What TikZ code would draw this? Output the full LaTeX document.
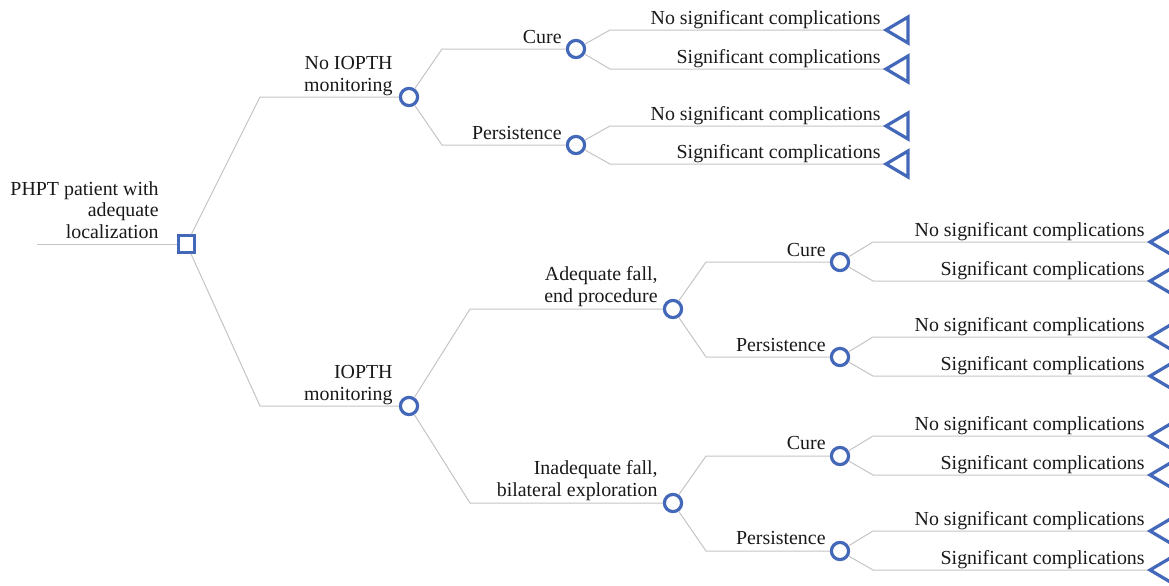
\documentclass[tikz,border=0pt]{standalone}
\usepackage{fontspec}
\setmainfont{Liberation Serif}
\usetikzlibrary{positioning}
\definecolor{nodeblue}{HTML}{4468B9}
\definecolor{branchgray}{HTML}{C4C4C4}

\begin{document}
\begin{tikzpicture}[x=0.5pt, y=-0.5pt,
  style={font=\fontsize{9.95}{10.75}\selectfont},
  chance/.style={circle, draw=nodeblue, line width=1.6pt, fill=white, minimum size=8.6pt, inner sep=0pt},
  decision/.style={rectangle, draw=nodeblue, line width=1.6pt, fill=white, minimum size=8.2pt, inner sep=0pt},
  lab/.style={anchor=base east, align=right, inner sep=0pt, text=black!90},
  branch/.style={draw=branchgray, line width=0.5pt},
  endmark/.style={draw=nodeblue, line width=1.6pt, line join=miter}]

		\useasboundingbox (0,0) rectangle (1169,585);

		\coordinate (start) at (37,244);
		\node[decision] (D) at (186.5,244) {};
		\node[chance] (A1) at (409,97) {};
		\node[chance] (A2) at (409,406) {};
		\node[chance] (B1) at (576,49) {};
		\node[chance] (B2) at (576,145) {};
		\node[chance] (B3) at (673,309) {};
		\node[chance] (B4) at (673,503) {};
		\node[chance] (C1) at (840,262) {};
		\node[chance] (C2) at (840,357) {};
		\node[chance] (C3) at (840,456) {};
		\node[chance] (C4) at (840,551) {};
		\coordinate (T1) at (886,30);
		\coordinate (T2) at (886,69);
		\coordinate (T3) at (886,126);
		\coordinate (T4) at (886,164);
		\coordinate (T5) at (1150,242);
		\coordinate (T6) at (1150,281);
		\coordinate (T7) at (1150,337);
		\coordinate (T8) at (1150,376);
		\coordinate (T9) at (1150,436);
		\coordinate (T10) at (1150,475);
		\coordinate (T11) at (1150,531);
		\coordinate (T12) at (1150,570);

		% labels
		\node[lab] (Lroot) at (159,238) {PHPT patient with\\adequate\\localization};
		\node[lab] (LA1) at (393,91) {No IOPTH\\monitoring};
		\node[lab] (LA2) at (393,400) {IOPTH\\monitoring};
		\node[lab] (LB1) at (562,43) {Cure};
		\node[lab] (LB2) at (562,139) {Persistence};
		\node[lab] (LB3) at (658,302) {Adequate fall,\\end procedure};
		\node[lab] (LB4) at (658,496) {Inadequate fall,\\bilateral exploration};
		\node[lab] (LC1) at (826,256) {Cure};
		\node[lab] (LC2) at (826,351) {Persistence};
		\node[lab] (LC3) at (826,449) {Cure};
		\node[lab] (LC4) at (826,544) {Persistence};
		\node[lab] (LT1) at (881,24) {No significant complications};
		\node[lab] (LT2) at (881,63) {Significant complications};
		\node[lab] (LT3) at (881,120) {No significant complications};
		\node[lab] (LT4) at (881,158) {Significant complications};
		\node[lab] (LT5) at (1145,236) {No significant complications};
		\node[lab] (LT6) at (1145,275) {Significant complications};
		\node[lab] (LT7) at (1145,331) {No significant complications};
		\node[lab] (LT8) at (1145,370) {Significant complications};
		\node[lab] (LT9) at (1145,430) {No significant complications};
		\node[lab] (LT10) at (1145,469) {Significant complications};
		\node[lab] (LT11) at (1145,525) {No significant complications};
		\node[lab] (LT12) at (1145,564) {Significant complications};

		% branches
		\draw[branch] (start) -- (D);
		\draw[branch] (D) -- (260,97) -- (A1);
		\draw[branch] (D) -- (260,406) -- (A2);
		\draw[branch] (A1) -- (442,49) -- (B1);
		\draw[branch] (A1) -- (442,145) -- (B2);
		\draw[branch] (A2) -- (470,309) -- (B3);
		\draw[branch] (A2) -- (470,503) -- (B4);
		\draw[branch] (B1) -- (610,30) -- (T1);
		\draw[branch] (B1) -- (610,69) -- (T2);
		\draw[branch] (B2) -- (610,126) -- (T3);
		\draw[branch] (B2) -- (610,164) -- (T4);
		\draw[branch] (B3) -- (706,262) -- (C1);
		\draw[branch] (B3) -- (706,357) -- (C2);
		\draw[branch] (B4) -- (706,456) -- (C3);
		\draw[branch] (B4) -- (706,551) -- (C4);
		\draw[branch] (C1) -- (873,242) -- (T5);
		\draw[branch] (C1) -- (873,281) -- (T6);
		\draw[branch] (C2) -- (873,337) -- (T7);
		\draw[branch] (C2) -- (873,376) -- (T8);
		\draw[branch] (C3) -- (873,436) -- (T9);
		\draw[branch] (C3) -- (873,475) -- (T10);
		\draw[branch] (C4) -- (873,531) -- (T11);
		\draw[branch] (C4) -- (873,570) -- (T12);

		% end marks
		\foreach \t in {T1,T2,T3,T4,T5,T6,T7,T8,T9,T10,T11,T12}
			\draw[endmark] (\t) -- ++(22,-13) -- ++(0,26) -- cycle;
\end{tikzpicture}
\end{document}
